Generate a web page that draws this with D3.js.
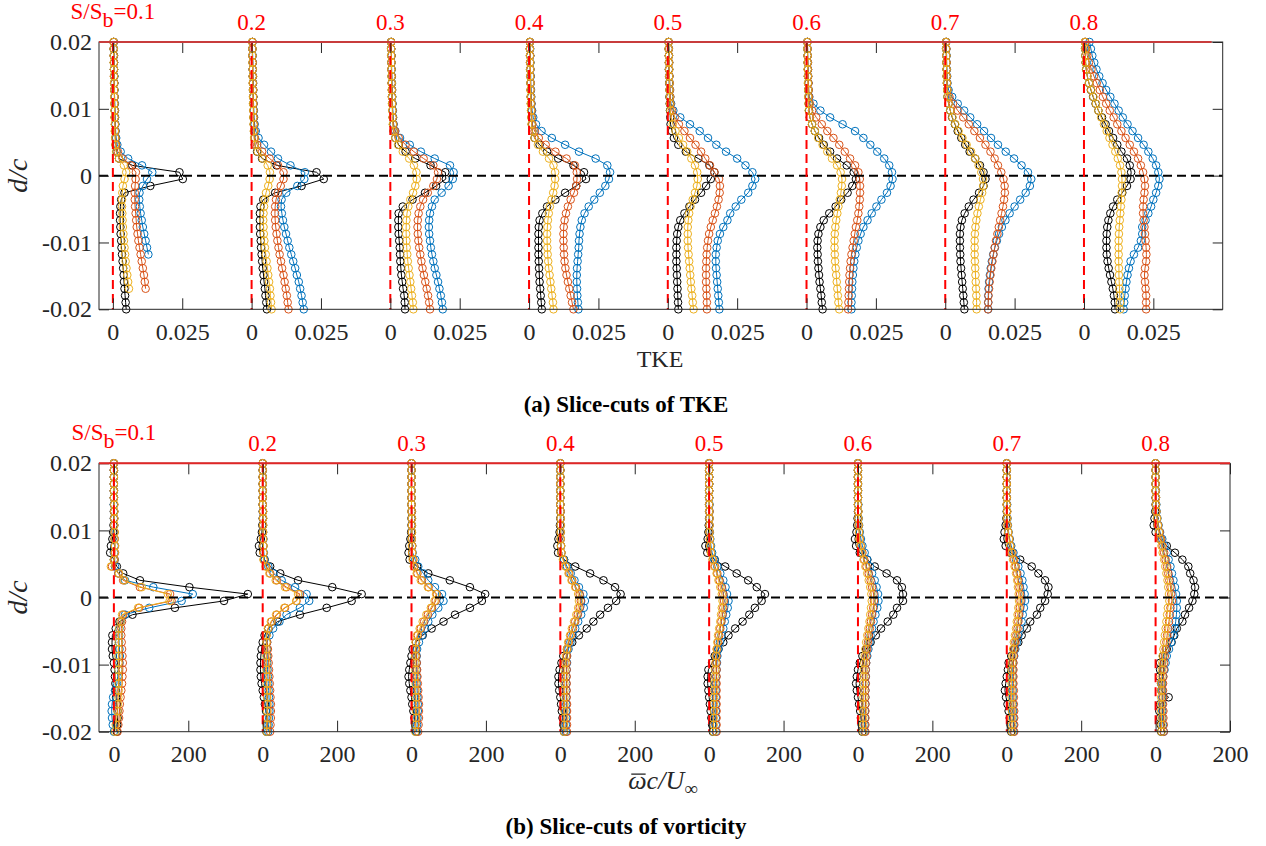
<!DOCTYPE html>
<html>
<head>
<meta charset="utf-8">
<script src="https://cdn.jsdelivr.net/npm/d3@7"></script>
<style>
  body { margin: 0; background: #fff; }
  svg { display: block; }
  svg text { font-family: "Liberation Serif", "Tinos", "Times New Roman", Times, "Nimbus Roman", "DejaVu Serif", serif; }
</style>
</head>
<body>
<script>
// wall-normal positions d/c (40 points, bottom to top)
const dGrid = [-0.02, -0.01897, -0.01795, -0.01692, -0.0159, -0.01487, -0.01385, -0.01282, -0.01179, -0.01077,
  -0.00974, -0.00872, -0.00769, -0.00667, -0.00564, -0.00462, -0.00359, -0.00256, -0.00154, -0.00051,
  0.00051, 0.00154, 0.00256, 0.00359, 0.00462, 0.00564, 0.00667, 0.00769, 0.00872, 0.00974,
  0.01077, 0.01179, 0.01282, 0.01385, 0.01487, 0.0159, 0.01692, 0.01795, 0.01897, 0.02];
const dTicks = [-0.02, -0.01, 0, 0.01, 0.02];

// stations S/Sb
const stations = ["0.1", "0.2", "0.3", "0.4", "0.5", "0.6", "0.7", "0.8"];

// TKE profiles, values in 1e-3, one row per station
const tkeBlack = [
  [4.8,4.6,4.4,4.2,4.0,3.9,3.7,3.5,3.3,3.1, 3.0,2.8,2.7,2.6,2.6,2.7,3.0,4.2,13.5,25.2, 24.0,7.0,2.2,1.3,1.0,0.9,0.8,0.8,0.7,0.7, 0.6,0.6,0.5,0.5,0.5,0.4,0.4,0.4,0.3,0.3],
  [5.5,5.3,5.0,4.8,4.5,4.3,4.0,3.8,3.6,3.4, 3.3,3.1,3.0,3.0,3.0,3.2,4.2,8.5,18.0,26.0, 23.4,9.0,3.8,2.0,1.2,1.0,0.9,0.8,0.7,0.7, 0.6,0.6,0.5,0.5,0.4,0.4,0.4,0.3,0.3,0.3],
  [5.3,5.2,5.0,4.6,4.3,4.0,3.8,3.6,3.5,3.4, 3.2,3.0,2.9,2.9,3.0,4.5,8.0,12.5,16.5,20.0, 19.8,14.5,9.0,5.5,3.0,1.8,1.2,1.0,0.9,0.8, 0.7,0.6,0.6,0.5,0.5,0.4,0.4,0.4,0.3,0.3],
  [4.6,4.4,4.2,4.0,3.8,3.7,3.6,3.5,3.4,3.4, 3.4,3.4,3.5,3.8,4.8,6.5,9.5,13.0,17.0,20.5, 19.8,16.0,10.5,6.5,3.8,2.0,1.2,1.0,0.9,0.8, 0.7,0.6,0.6,0.5,0.5,0.4,0.4,0.4,0.3,0.3],
  [3.8,3.7,3.6,3.5,3.4,3.3,3.2,3.1,3.1,3.1, 3.2,3.4,3.8,4.5,6.0,7.8,9.8,12.0,13.8,15.5, 16.8,15.0,11.0,6.5,3.8,2.2,1.5,1.0,0.9,0.8, 0.7,0.6,0.6,0.5,0.5,0.4,0.4,0.4,0.3,0.3],
  [5.8,5.5,5.3,5.0,4.7,4.5,4.3,4.1,4.0,3.9, 4.0,4.3,5.0,6.2,8.2,10.5,12.5,14.8,16.5,17.8, 17.0,14.5,11.0,8.5,6.2,4.5,3.0,2.0,1.2,0.9, 0.8,0.7,0.6,0.6,0.5,0.5,0.4,0.4,0.3,0.3],
  [6.9,6.7,6.5,6.3,6.1,5.9,5.7,5.5,5.4,5.3, 5.3,5.3,5.5,6.0,7.0,8.5,10.2,12.2,13.8,14.5, 13.8,12.5,10.8,8.8,7.2,5.8,4.5,3.5,2.5,1.8, 1.2,0.8,0.7,0.6,0.5,0.5,0.4,0.4,0.3,0.3],
  [11.2,11.1,10.8,10.4,9.9,9.4,8.9,8.5,8.2,8.1, 8.1,8.2,8.4,8.8,9.5,10.5,12.0,13.8,15.5,16.8, 17.0,16.5,15.5,13.5,12.0,10.5,9.0,7.8,6.5,5.2, 4.2,3.3,2.5,1.8,1.2,0.8,0.6,0.5,0.4,0.4]
];
const tkeBlue = [
  [null,null,null,null,null,null,null,null,12.8,12.3, 11.8,11.3,10.8,10.4,10.0,9.7,9.5,9.6,10.8,12.3, 14.2,10.5,5.5,2.8,1.6,1.2,1.0,0.9,0.8,0.7, 0.7,0.6,0.6,0.5,0.5,0.4,0.4,0.3,0.3,0.3],
  [18.8,18.4,18.0,17.5,17.0,16.3,15.7,15.0,14.3,13.6, 13.0,12.4,11.8,11.3,10.9,10.6,10.8,12.5,16.5,19.0, 19.2,14.0,9.5,7.0,4.5,2.5,1.5,1.1,0.9,0.8, 0.7,0.6,0.6,0.5,0.5,0.4,0.4,0.4,0.3,0.3],
  [18.9,18.6,18.2,17.7,17.2,16.6,16.0,15.5,15.0,14.6, 14.3,14.0,13.9,14.0,14.3,15.0,16.0,18.5,21.0,22.5, 22.8,21.5,16.0,11.0,7.0,3.5,1.8,1.2,1.0,0.9, 0.8,0.7,0.6,0.6,0.5,0.5,0.4,0.4,0.3,0.3],
  [17.8,17.6,17.4,17.3,17.2,17.2,17.3,17.5,17.7,17.9, 18.0,18.2,18.5,19.0,20.0,21.5,23.5,25.5,27.5,28.8, 29.2,28.2,24.0,18.0,13.0,8.2,4.5,2.5,1.5,1.1, 0.9,0.8,0.7,0.6,0.6,0.5,0.5,0.4,0.4,0.3],
  [18.6,18.4,18.2,18.0,17.8,17.6,17.4,17.3,17.3,17.6, 18.0,18.8,20.0,21.5,22.5,24.5,26.5,29.0,30.5,31.5, 30.5,28.0,25.0,21.0,17.5,14.5,11.5,8.0,4.5,2.0, 1.2,0.9,0.8,0.7,0.6,0.5,0.5,0.4,0.4,0.3],
  [16.2,16.2,16.3,16.4,16.5,16.7,16.9,17.2,17.6,18.1, 18.7,19.5,20.5,22.0,23.5,25.2,27.0,29.0,30.3,31.0, 30.8,29.8,28.0,25.5,23.0,20.5,17.5,13.0,8.5,5.0, 2.5,1.0,0.8,0.7,0.6,0.5,0.5,0.4,0.4,0.3],
  [15.5,15.5,15.5,15.6,15.8,16.1,16.4,16.8,17.3,17.9, 18.6,19.4,20.4,21.7,23.2,25.0,27.0,29.0,30.5,31.0, 29.8,27.5,24.8,21.8,19.0,16.5,14.0,11.5,9.0,6.8, 4.5,2.5,1.2,0.8,0.7,0.6,0.5,0.5,0.4,0.4],
  [14.3,14.5,14.7,15.0,15.3,15.7,16.2,16.8,18.0,19.5, 20.5,21.0,21.0,22.2,23.2,24.2,25.0,26.0,26.8,27.2, 26.8,26.0,24.8,23.2,21.5,19.5,17.5,15.7,14.0,12.5, 11.0,9.5,8.0,6.7,5.5,4.5,3.7,3.0,2.5,2.0]
];
const tkeOrange = [
  [null,null,null,11.8,11.5,11.2,10.8,10.4,10.0,9.6, 9.2,8.9,8.6,8.4,8.2,8.0,7.9,7.9,8.0,8.2, 8.3,6.5,3.5,1.8,1.2,1.0,0.9,0.8,0.7,0.7, 0.6,0.6,0.5,0.5,0.4,0.4,0.4,0.3,0.3,0.3],
  [13.3,13.0,12.7,12.3,11.9,11.5,11.0,10.6,10.1,9.7, 9.3,9.0,8.7,8.5,8.4,8.5,8.8,9.5,10.5,11.5, 11.5,9.5,6.5,3.8,2.0,1.2,1.0,0.9,0.8,0.7, 0.7,0.6,0.6,0.5,0.5,0.4,0.4,0.3,0.3,0.3],
  [14.3,14.0,13.6,13.1,12.6,12.1,11.6,11.2,10.8,10.4, 10.1,9.9,9.8,9.9,10.2,10.8,11.8,13.5,15.5,16.8, 17.2,15.5,12.0,8.5,5.5,3.0,1.7,1.1,0.9,0.8, 0.7,0.6,0.6,0.5,0.5,0.4,0.4,0.4,0.3,0.3],
  [16.0,15.5,15.0,14.5,14.0,13.5,13.1,12.8,12.6,12.5, 12.4,12.4,12.5,12.8,13.3,14.0,15.0,16.2,17.0,17.3, 17.2,16.5,13.5,9.5,6.0,3.5,2.0,1.2,1.0,0.9, 0.8,0.7,0.6,0.6,0.5,0.5,0.4,0.4,0.3,0.3],
  [14.1,14.1,14.0,13.9,13.8,13.8,13.8,13.9,14.0,14.2, 14.5,14.9,15.5,16.2,17.0,17.7,18.3,18.7,18.8,18.5, 16.8,15.2,13.5,12.0,10.0,8.0,6.0,4.0,2.5,1.5, 1.0,0.9,0.8,0.7,0.6,0.5,0.5,0.4,0.4,0.3],
  [15.0,15.1,15.2,15.3,15.4,15.5,15.7,15.9,16.2,16.6, 17.0,17.4,17.8,18.3,18.7,19.0,19.2,19.3,19.3,19.2, 18.7,17.5,15.7,13.8,11.8,9.7,7.5,5.5,3.5,2.0, 1.2,0.9,0.8,0.7,0.6,0.5,0.5,0.4,0.4,0.3],
  [15.4,15.5,15.6,15.8,16.0,16.3,16.6,17.0,17.4,17.8, 18.3,18.8,19.3,19.8,20.3,20.8,21.2,21.5,21.4,21.0, 20.2,19.0,17.8,16.3,14.5,12.5,10.5,8.5,6.5,4.5, 2.8,1.5,0.8,0.7,0.6,0.5,0.5,0.4,0.4,0.3],
  [22.4,22.4,22.4,22.2,22.0,21.8,22.0,22.4,22.5,22.4, 22.2,22.0,21.8,21.5,21.3,21.3,21.5,21.8,22.0,21.8, 21.3,20.5,19.5,18.0,16.5,15.0,13.5,12.0,10.7,9.3, 8.0,6.8,5.7,4.6,3.6,2.7,1.8,1.2,0.8,0.5]
];
const tkeYellow = [
  [null,null,null,5.8,5.5,5.2,4.9,4.6,4.4,4.2, 4.0,3.8,3.6,3.5,3.4,3.3,3.3,3.4,3.6,4.2, 4.8,4.0,2.2,1.2,0.9,0.8,0.7,0.7,0.6,0.6, 0.5,0.5,0.5,0.4,0.4,0.4,0.3,0.3,0.3,0.2],
  [7.2,7.0,6.8,6.6,6.3,6.0,5.7,5.4,5.1,4.8, 4.6,4.4,4.3,4.2,4.3,4.5,4.8,5.2,6.0,6.5, 6.6,5.8,4.0,2.2,1.2,0.9,0.8,0.7,0.6,0.6, 0.5,0.5,0.5,0.4,0.4,0.4,0.3,0.3,0.3,0.2],
  [8.3,8.1,7.8,7.5,7.2,6.9,6.6,6.3,6.1,5.9, 5.8,5.7,5.7,5.8,6.0,6.5,7.2,8.2,9.0,9.5, 9.4,8.5,6.8,4.5,2.8,1.8,1.2,0.9,0.8,0.7, 0.6,0.6,0.5,0.5,0.4,0.4,0.4,0.3,0.3,0.3],
  [8.8,8.6,8.3,8.0,7.7,7.4,7.1,6.9,6.7,6.6, 6.5,6.5,6.6,6.8,7.1,7.5,8.1,8.7,9.2,9.4, 9.4,8.8,7.2,5.0,3.2,2.0,1.2,0.9,0.8,0.7, 0.6,0.6,0.5,0.5,0.4,0.4,0.4,0.3,0.3,0.3],
  [9.3,9.0,8.8,8.5,8.3,8.1,7.9,7.7,7.5,7.3, 7.2,7.2,7.2,7.4,7.7,8.2,9.0,9.8,10.5,10.8, 10.6,9.8,8.5,7.0,5.5,4.0,2.8,1.8,1.2,0.9, 0.8,0.7,0.6,0.6,0.5,0.5,0.4,0.4,0.3,0.3],
  [11.8,11.5,11.3,11.1,10.9,10.7,10.5,10.3,10.2,10.1, 10.1,10.2,10.4,10.7,11.1,11.5,12.0,12.4,12.7,12.8, 12.3,11.0,9.2,7.5,5.8,4.2,3.0,2.0,1.2,0.8, 0.7,0.6,0.6,0.5,0.5,0.4,0.4,0.4,0.3,0.3],
  [11.3,11.3,11.2,11.1,11.0,10.9,10.8,10.7,10.6,10.6, 10.6,10.7,10.9,11.2,11.6,12.1,12.7,13.3,13.7,13.6, 13.0,12.0,10.8,9.3,7.7,6.2,4.8,3.6,2.6,1.8, 1.2,0.8,0.7,0.6,0.5,0.5,0.4,0.4,0.3,0.3],
  [13.0,13.0,12.9,12.8,12.7,12.6,12.6,12.5,12.5,12.5, 12.5,12.6,12.7,12.9,13.1,13.3,13.5,13.6,13.7,13.7, 13.5,13.0,12.2,11.3,10.3,9.2,8.2,7.2,6.2,5.2, 4.3,3.4,2.6,1.8,1.2,0.8,0.6,0.5,0.4,0.3]
];

// vorticity profiles, omega c / U_inf
const vortBlack = [
  [8,9,10,10,8,6,5,4,3,2, 0,-3,-5,-5,-4,5,15,50,164,296, 360,203,70,25,8,0,-10,-8,-4,-2, -1,0,0,0,0,0,0,0,0,0],
  [10,12,11,9,6,3,0,-3,-5,-6, -6,-5,-3,0,5,15,40,100,172,239, 266,187,95,47,20,5,-8,-10,-5,-2, -1,0,0,0,0,0,0,0,0,0],
  [12,10,8,5,2,0,-3,-6,-8,-6, -3,0,3,12,30,54,86,117,157,189, 198,157,103,45,15,-5,-8,-6,-3,-1, 0,0,0,0,0,0,0,0,0,0],
  [10,8,6,4,2,0,-3,-5,-5,-2, 3,8,18,32,50,71,89,107,128,150, 162,147,116,80,40,10,-6,-8,-5,-2, -1,0,0,0,0,0,0,0,0,0],
  [10,8,6,4,2,0,-2,-4,-4,-2, 8,15,25,38,52,70,90,108,123,141, 150,128,105,74,43,15,-5,-10,-4,-2, -1,0,0,0,0,0,0,0,0,0],
  [12,10,8,6,3,0,-3,-5,-3,0, 5,12,22,34,48,62,80,95,105,121, 121,118,105,77,45,25,5,-5,-8,-4, -2,-1,0,0,0,0,0,0,0,0],
  [12,10,8,5,2,-2,-5,-3,0,3, 5,12,20,31,40,54,63,81,90,103, 110,112,103,85,67,36,10,-3,-8,-6, -3,-1,0,0,0,0,0,0,0,0],
  [15,14,12,10,12,35,15,15,10,12, 12,20,30,43,50,57,72,79,90,99, 104,106,102,93,88,72,52,30,12,0, -5,-3,-1,0,0,0,0,0,0,0]
];
const vortBlue = [
  [0,-3,-5,-6,-5,-2,3,8,10,12, 15,16,15,14,14,15,18,30,95,182, 212,106,30,12,3,2,1,2,2,1, 1,1,1,0,0,0,0,0,0,0],
  [15,16,17,18,18,17,16,15,14,13, 12,12,12,12,18,28,45,64,100,125, 118,87,51,29,15,5,3,2,2,1, 1,1,1,0,0,0,0,0,0,0],
  [14,15,16,17,17,16,15,14,14,14, 14,14,15,20,28,36,45,56,72,86, 82,63,45,32,18,10,3,2,1,1, 1,1,1,0,0,0,0,0,0,0],
  [15,15,16,16,16,16,16,16,16,17, 18,18,22,27,33,40,48,56,63,66, 62,50,38,28,18,10,3,2,1,1, 1,1,1,0,0,0,0,0,0,0],
  [18,18,18,18,18,18,18,18,19,20, 21,22,25,29,33,38,42,46,50,52, 48,44,38,30,22,14,8,5,3,2, 1,1,1,1,0,0,0,0,0,0],
  [18,18,19,19,20,20,20,20,21,21, 22,25,28,31,34,38,42,47,52,55, 54,50,45,38,32,25,18,12,8,5, 3,2,1,1,0,0,0,0,0,0],
  [18,18,18,17,17,16,16,16,16,16, 17,20,23,27,31,35,40,43,46,49, 48,45,42,37,31,25,18,12,8,5, 3,2,1,1,0,0,0,0,0,0],
  [22,20,18,18,18,18,18,18,20,24, 27,30,36,42,48,52,54,56,57,57, 55,52,48,44,40,35,30,24,18,12, 8,5,3,2,1,1,0,0,0,0]
];
const vortOrange = [
  [10,12,14,15,16,18,20,22,23,24, 24,23,22,21,20,20,22,25,68,155, 151,70,25,12,-5,2,3,3,2,2, 1,1,1,1,0,0,0,0,0,0],
  [20,21,22,22,22,21,20,19,18,17, 16,15,14,12,10,15,24,38,60,91, 100,64,38,20,10,3,2,2,1,1, 1,1,1,0,0,0,0,0,0,0],
  [18,19,20,20,20,19,18,17,16,15, 14,13,12,12,17,25,34,44,55,65, 68,46,28,16,8,5,2,2,1,1, 1,1,1,0,0,0,0,0,0,0],
  [18,18,18,18,18,17,17,17,17,17, 17,18,19,23,28,34,40,47,52,55, 52,42,32,24,15,8,3,2,1,1, 1,1,1,0,0,0,0,0,0,0],
  [20,20,20,20,20,20,20,20,20,20, 20,20,21,24,27,30,33,36,38,40, 38,34,28,22,16,10,5,3,2,1, 1,1,1,0,0,0,0,0,0,0],
  [20,20,20,20,20,20,20,21,21,21, 22,23,25,27,29,32,35,38,41,43, 42,38,34,29,23,17,12,8,5,3, 2,1,1,0,0,0,0,0,0,0],
  [20,20,20,20,19,19,19,18,18,18, 18,19,21,23,26,29,31,33,35,37, 36,34,31,28,24,20,15,10,7,4, 2,1,1,0,0,0,0,0,0,0],
  [22,22,21,21,20,20,20,20,21,22, 23,25,27,29,31,33,36,38,40,44, 42,40,37,34,31,27,23,19,15,11, 7,4,2,1,1,0,0,0,0,0]
];
const vortYellow = [
  [3,5,8,10,11,12,13,13,12,12, 12,12,12,13,13,14,18,22,65,150, 145,75,28,14,-8,0,2,3,2,2, 1,1,1,1,0,0,0,0,0,0],
  [10,11,12,12,12,12,12,11,11,10, 10,10,10,10,10,14,22,36,58,90, 95,60,35,18,8,2,2,2,1,1, 1,1,1,0,0,0,0,0,0,0],
  [10,11,12,12,12,12,11,11,10,10, 10,10,10,11,15,22,30,40,52,62, 66,44,25,14,6,3,2,1,1,1, 1,1,0,0,0,0,0,0,0,0],
  [10,10,11,11,11,11,11,11,11,12, 13,15,18,21,26,31,37,43,48,50, 48,40,30,22,14,7,3,2,1,1, 1,1,0,0,0,0,0,0,0,0],
  [12,12,12,13,13,13,14,14,15,16, 17,18,20,22,24,27,30,32,34,36, 34,30,25,20,14,9,5,3,2,1, 1,1,0,0,0,0,0,0,0,0],
  [14,14,14,14,14,15,15,15,16,16, 17,18,20,22,25,28,31,33,35,37, 36,33,29,25,20,15,10,7,4,3, 2,1,1,0,0,0,0,0,0,0],
  [14,14,14,14,14,13,13,13,13,13, 14,15,17,19,22,25,27,29,31,33, 32,30,28,25,21,17,13,9,6,4, 2,1,1,0,0,0,0,0,0,0],
  [16,16,16,15,15,15,15,15,16,17, 18,19,21,23,25,27,29,31,33,37, 36,34,32,29,26,23,19,16,12,9, 6,4,2,1,1,0,0,0,0,0]
];

// x ticks: profiles are shifted by a fixed step along one shared axis
const tkeTicks = [0, 0.025, 0.05, 0.075, 0.1, 0.125, 0.15, 0.175, 0.2, 0.225, 0.25, 0.275, 0.3, 0.325, 0.35, 0.375];
const tkeTickText = ["0", "0.025"];
const vortTicks = [0, 200, 400, 600, 800, 1000, 1200, 1400, 1600, 1800, 2000, 2200, 2400, 2600, 2800, 3000];
const vortTickText = ["0", "200"];

const colors = { black: "#000000", blue: "#0072BD", orange: "#D95319", yellow: "#EDB120" };
const axisColor = "#262626";
const serif = '"Liberation Serif", "Tinos", "Times New Roman", Times, "Nimbus Roman", "DejaVu Serif", serif';

const W = 1266, H = 846;
const svg = d3.select("body").append("svg").attr("width", W).attr("height", H)
  .attr("font-family", serif);

function drawPanel(p) {
  const x = d3.scaleLinear().domain(p.xDomain).range([p.left, p.right]);
  const y = d3.scaleLinear().domain([-0.02, 0.02]).range([p.bottom, p.top]);
  const g = svg.append("g");

  // series
  const series = [["black", p.black], ["blue", p.blue], ["orange", p.orange], ["yellow", p.yellow]];
  const line = d3.line().defined(d => d).x(d => d[0]).y(d => d[1]);
  series.forEach(([key, rows]) => {
    rows.forEach((vals, k) => {
      const pts = vals.map((v, i) => v == null ? null : [x(k * p.step + v * p.unit), y(dGrid[i])]);
      g.append("path").datum(pts)
        .attr("d", line).attr("fill", "none")
        .attr("stroke", colors[key]).attr("stroke-width", 1);
      g.append("g").selectAll("circle").data(pts.filter(d => d)).join("circle")
        .attr("cx", d => d[0]).attr("cy", d => d[1]).attr("r", 3.8)
        .attr("fill", "none").attr("stroke", colors[key]).attr("stroke-width", 1);
    });
  });

  // reference lines
  g.append("line")
    .attr("x1", p.left).attr("x2", p.right).attr("y1", y(0)).attr("y2", y(0))
    .attr("stroke", "#000").attr("stroke-width", 2).attr("stroke-dasharray", "9,5");
  stations.forEach((s, k) => {
    g.append("line")
      .attr("x1", x(k * p.step)).attr("x2", x(k * p.step))
      .attr("y1", p.top).attr("y2", p.bottom)
      .attr("stroke", "#ff0000").attr("stroke-width", 2).attr("stroke-dasharray", "9,5");
  });

  // axes box and ticks
  g.append("rect")
    .attr("x", p.left).attr("y", p.top).attr("width", p.right - p.left).attr("height", p.bottom - p.top)
    .attr("fill", "none").attr("stroke", axisColor).attr("stroke-width", 1);

  const bottomAxis = g.append("g").attr("transform", `translate(0,${p.bottom})`)
    .call(d3.axisBottom(x).tickValues(p.ticks).tickSize(-11).tickPadding(p.tickPad)
      .tickFormat((d, i) => p.tickText[i % 2]));
  const topAxis = g.append("g").attr("transform", `translate(0,${p.top})`)
    .call(d3.axisTop(x).tickValues(p.ticks).tickSize(-11).tickFormat(""));
  const leftAxis = g.append("g").attr("transform", `translate(${p.left},0)`)
    .call(d3.axisLeft(y).tickValues(dTicks).tickSize(-10).tickPadding(7)
      .tickFormat(d => d === 0 ? "0" : String(d)));
  const rightAxis = g.append("g").attr("transform", `translate(${p.right},0)`)
    .call(d3.axisRight(y).tickValues(dTicks).tickSize(-10).tickFormat(""));

  [bottomAxis, topAxis, leftAxis, rightAxis].forEach(a => {
    a.attr("font-family", serif).attr("font-size", 24);
    a.select(".domain").remove();
    a.selectAll(".tick line").attr("stroke", axisColor);
    a.selectAll(".tick text").attr("fill", axisColor);
  });

  // red top line
  g.append("line")
    .attr("x1", p.left).attr("x2", x(p.redEnd)).attr("y1", p.top).attr("y2", p.top)
    .attr("stroke", p.redColor).attr("stroke-width", 2);

  // station labels
  stations.forEach((s, k) => {
    const t = g.append("text")
      .attr("x", x(k * p.step)).attr("text-anchor", "middle")
      .attr("fill", "#ff0000").attr("font-size", 23);
    if (k === 0) {
      t.attr("y", p.top - 23);
      t.append("tspan").text("S/S");
      t.append("tspan").attr("dy", 8).attr("font-size", 22).text("b");
      t.append("tspan").attr("dy", -8).text("=" + s);
    } else {
      t.attr("y", p.top - 12).text(s);
    }
  });

  // y label
  g.append("text")
    .attr("transform", `translate(27,${(p.top + p.bottom) / 2}) rotate(-90)`)
    .attr("text-anchor", "middle").attr("font-size", 28).attr("font-style", "italic")
    .attr("fill", axisColor).text("d/c");

  return { x, y, g };
}

const panelA = drawPanel({
  left: 99, right: 1222.7, top: 42, bottom: 309.3,
  xDomain: [-0.005, 0.4], step: 0.05, unit: 1e-3,
  ticks: tkeTicks, tickText: tkeTickText, tickPad: 14,
  black: tkeBlack, blue: tkeBlue, orange: tkeOrange, yellow: tkeYellow,
  redEnd: 0.396, redColor: "#c83c3c"
});
panelA.g.append("text").attr("x", 660).attr("y", 367).attr("text-anchor", "middle")
  .attr("font-size", 24).attr("fill", axisColor).text("TKE");
svg.append("text").attr("x", 626).attr("y", 412).attr("text-anchor", "middle")
  .attr("font-size", 23).attr("font-weight", "bold").attr("fill", "#000")
  .text("(a) Slice-cuts of TKE");

const panelB = drawPanel({
  left: 99, right: 1230, top: 463.3, bottom: 731.7,
  xDomain: [-40, 3000], step: 400, unit: 1,
  ticks: vortTicks, tickText: vortTickText, tickPad: 13,
  black: vortBlack, blue: vortBlue, orange: vortOrange, yellow: vortYellow,
  redEnd: 3000, redColor: "#e02626"
});

// x label of the vorticity panel, with a bar drawn over omega
const xl = panelB.g.append("text").attr("x", 663).attr("y", 789).attr("text-anchor", "middle")
  .attr("font-size", 26).attr("fill", axisColor).attr("font-style", "italic");
xl.append("tspan").text("\u03C9c/U");
xl.append("tspan").attr("dy", 6).attr("font-size", 19).attr("font-style", "normal").text("\u221E");
const om = xl.node().getExtentOfChar(0);
panelB.g.append("line")
  .attr("x1", om.x + 3).attr("x2", om.x + om.width - 1)
  .attr("y1", om.y + om.height * 0.28).attr("y2", om.y + om.height * 0.28)
  .attr("stroke", axisColor).attr("stroke-width", 1.3);

svg.append("text").attr("x", 626).attr("y", 834).attr("text-anchor", "middle")
  .attr("font-size", 23).attr("font-weight", "bold").attr("fill", "#000")
  .text("(b) Slice-cuts of vorticity");
</script>
</body>
</html>
